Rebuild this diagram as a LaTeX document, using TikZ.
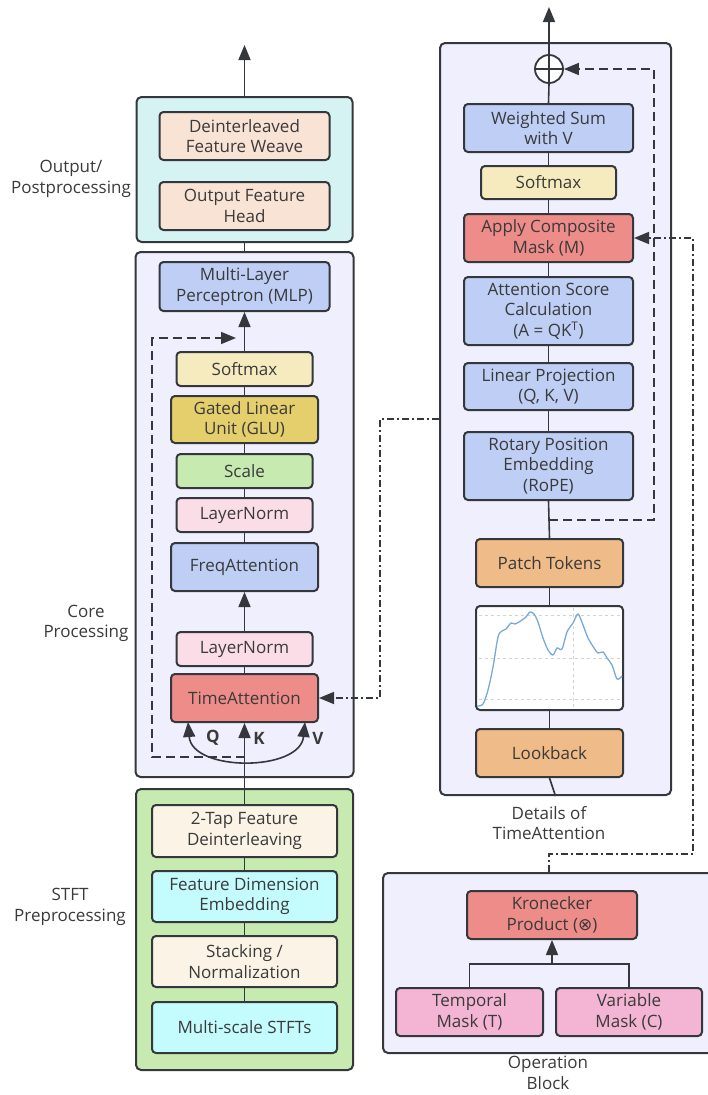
\documentclass[tikz,border=0pt]{standalone}
\usepackage{fontspec}
\setmainfont{Open Sans}
\newfontfamily\symfont{DejaVu Sans}
\usetikzlibrary{positioning, arrows.meta, calc}
\definecolor{edge}{RGB}{52, 56, 60}
\definecolor{ink}{RGB}{58, 58, 58}
\definecolor{lav}{RGB}{239, 239, 253}
\definecolor{aqua}{RGB}{214, 243, 243}
\definecolor{peach}{RGB}{249, 227, 213}
\definecolor{blue}{RGB}{190, 206, 245}
\definecolor{cream}{RGB}{246, 235, 191}
\definecolor{gold}{RGB}{229, 207, 108}
\definecolor{leaf}{RGB}{199, 234, 177}
\definecolor{blush}{RGB}{251, 221, 232}
\definecolor{coral}{RGB}{238, 140, 138}
\definecolor{linen}{RGB}{251, 243, 230}
\definecolor{ice}{RGB}{196, 251, 253}
\definecolor{amber}{RGB}{239, 187, 136}
\definecolor{rose}{RGB}{244, 180, 212}
\definecolor{wave}{RGB}{120, 170, 215}

\begin{document}
\begin{tikzpicture}[
    x=1pt, y=-1pt,
    group/.style={
        rectangle, rounded corners=5pt, draw=edge, fill=#1,
        line width=2pt,
    },
    blk/.style={
        rectangle, rounded corners=4pt, draw=edge, fill=#1,
        line width=2pt, text=ink, align=center,
        font=\fontsize{17}{20.5}\selectfont, inner sep=2pt,
    },
    side/.style={text=ink, align=center, font=\fontsize{17}{20.5}\selectfont},
    link/.style={draw=edge, line width=1.6pt},
    arr/.style={link, -{Triangle[length=15pt, width=12pt]}},
    resid/.style={arr, dash pattern=on 9pt off 5pt},
    mixed/.style={arr, dash pattern=on 7pt off 3pt on 2pt off 3pt},
    qkv/.style={text=ink, font=\fontsize{17}{18}\selectfont\bfseries},
]
\useasboundingbox (0,0) rectangle (708,1095);

% --- Outer blocks ---
\node[group=aqua, minimum width=216, minimum height=145] (outblk) at (244.5,169.5) {};
\node[group=lav,  minimum width=218, minimum height=525] (core)   at (244.5,514.5) {};
\node[group=leaf, minimum width=217, minimum height=281] (stft)   at (244.5,929.5) {};
\node[group=lav,  minimum width=231, minimum height=752] (detail) at (555.5,419) {};
\node[group=lav,  minimum width=332, minimum height=180] (opblk)  at (549,963) {};

% --- Side labels ---
\node[side] (outlbl)  at (71,179)  {Output/\\Postprocessing};
\node[side] (corelbl) at (86,623.5) {Core\\Processing};
\node[side] (stftlbl) at (70,907)  {STFT\\Preprocessing};
\node[side] (detlbl)  at (549,823) {Details of\\TimeAttention};
\node[side] (oplbl)   at (548,1073) {Operation\\Block};

% --- Output / postprocessing ---
\node[blk=peach, minimum width=170, minimum height=48] (weave) at (244.5,136) {Deinterleaved\\Feature Weave};
\node[blk=peach, minimum width=170, minimum height=48] (head)  at (244.5,206) {Output Feature\\Head};

% --- Core processing ---
\node[blk=blue,  minimum width=170, minimum height=49] (mlp)   at (244.5,286.5) {Multi-Layer\\Perceptron (MLP)};
\node[blk=cream, minimum width=136, minimum height=34] (smax)  at (244.5,369) {Softmax};
\node[blk=gold,  minimum width=147, minimum height=47] (glu)   at (244.5,419.5) {Gated Linear\\Unit (GLU)};
\node[blk=leaf,  minimum width=136, minimum height=34] (scale) at (244.5,471) {Scale};
\node[blk=blush, minimum width=136, minimum height=34] (ln1)   at (244.5,515) {LayerNorm};
\node[blk=blue,  minimum width=147, minimum height=48] (freq)  at (244.5,567) {FreqAttention};
\node[blk=blush, minimum width=136, minimum height=34] (ln2)   at (244.5,649) {LayerNorm};
\node[blk=coral, minimum width=147, minimum height=48] (tatt)  at (244.5,698) {TimeAttention};

% --- STFT preprocessing ---
\node[blk=linen, minimum width=185, minimum height=52] (tap)   at (244.5,831) {2-Tap Feature\\Deinterleaving};
\node[blk=ice,   minimum width=185, minimum height=51] (fde)   at (244.5,896.5) {Feature Dimension\\Embedding};
\node[blk=linen, minimum width=185, minimum height=51] (stack) at (244.5,961.5) {Stacking /\\Normalization};
\node[blk=ice,   minimum width=185, minimum height=51] (mstft) at (244.5,1027.5) {Multi-scale STFTs};

% --- Details of TimeAttention ---
\node[circle, draw=edge, fill=white, line width=1.8pt, minimum size=28, inner sep=0pt] (oplus) at (549,69) {};
\node[blk=blue,  minimum width=169, minimum height=48] (wsum)  at (548.5,128) {Weighted Sum\\with V};
\node[blk=cream, minimum width=135, minimum height=33] (smax2) at (548.5,182.5) {Softmax};
\node[blk=coral, minimum width=169, minimum height=48] (mask)  at (548.5,238) {Apply Composite\\Mask (M)};
\node[blk=blue,  minimum width=169, minimum height=68] (score) at (548.5,311) {Attention Score\\Calculation\\(A = QK\textsuperscript{T})};
\node[blk=blue,  minimum width=169, minimum height=47] (proj)  at (548.5,386.5) {Linear Projection\\(Q, K, V)};
\node[blk=blue,  minimum width=169, minimum height=68] (rope)  at (548.5,466) {Rotary Position\\Embedding\\(RoPE)};
\node[blk=amber, minimum width=147, minimum height=48] (patch) at (549.5,563) {Patch Tokens};
\node[blk=white, minimum width=147, minimum height=104] (plot) at (549.5,658) {};
\node[blk=amber, minimum width=147, minimum height=48] (look)  at (549.5,753) {Lookback};

% series sketch inside the plot frame
\draw[gray!35, line width=0.6pt, dashed] (479,615) -- (621,615) (479,658) -- (621,658)
    (479,699) -- (621,699) (573,608) -- (573,708);
\draw[wave, line width=1.3pt] plot[smooth, tension=0.5] coordinates {
    (477,706) (483,704) (488,690) (493,667) (498,637) (502,631) (506,629)
    (511,623) (515,624) (522,620) (526,617) (530,612) (534,614) (538,622)
    (543,638) (548,650) (553,655) (557,648) (562,649) (567,632) (573,623)
    (578,614) (583,625) (588,638) (594,648) (598,653) (603,652) (607,658)
    (612,665) (617,679) (622,676)};

% --- Operation block ---
\node[blk=coral, minimum width=170, minimum height=48] (kron) at (552,915) {Kronecker\\Product ({\symfont ⊗})};
\node[blk=rose,  minimum width=147, minimum height=48] (tmask) at (469.5,1012) {Temporal\\Mask (T)};
\node[blk=rose,  minimum width=146, minimum height=48] (vmask) at (629,1012) {Variable\\Mask (C)};

% --- Left column connectors ---
\coordinate (outtop) at (244.5,45);
\draw[arr] (outblk.north) -- (outtop);
\draw[link] (core.north) -- (outblk.south);
\draw[arr] (smax.north) -- (mlp.south);
\draw[link] (smax.south) -- (glu.north);
\draw[link] (glu.south) -- (scale.north);
\draw[link] (scale.south) -- (ln1.north);
\draw[link] (ln1.south) -- (freq.north);
\draw[arr] (ln2.north) -- (freq.south);
\draw[link] (tatt.north) -- (ln2.south);
\draw[arr] (tap.north) -- (tatt.south);
\draw[link] (tap.south) -- (fde.north);
\draw[link] (fde.south) -- (stack.north);
\draw[link] (stack.south) -- (mstft.north);

% Q / V split
\coordinate (qin) at (188,722);
\coordinate (vin) at (305,722);
\draw[link, {Triangle[length=15pt, width=12pt]}-{Triangle[length=15pt, width=12pt]}]
    (qin) .. controls (192,772) and (300,772) .. (vin);
\node[qkv] (qlbl) at (213,738) {Q};
\node[qkv] (klbl) at (259,738) {K};
\node[qkv] (vlbl) at (318,738) {V};

% residual skip around the core stack
\coordinate (skipin)  at (244.5,757);
\coordinate (skipout) at (236,338);
\draw[resid] (skipin) -- (152,757) -- (152,338) -- (skipout);

% --- Right column connectors ---
\coordinate (attop) at (549,7);
\draw[link] (oplus.north) -- (oplus.south) (oplus.west) -- (oplus.east);
\draw[arr] (oplus.north) -- (attop);
\draw[link] (wsum.north) -- (oplus.south);
\draw[link] (smax2.north) -- (wsum.south);
\draw[link] (mask.north) -- (smax2.south);
\draw[link] (score.north) -- (mask.south);
\draw[link] (proj.north) -- (score.south);
\draw[link] (rope.north) -- (proj.south);
\draw[link] (patch.north) -- (rope.south);
\draw[link] (plot.north) -- (patch.south);
\draw[link] (look.north) -- (plot.south);
\draw[link] (look.south) -- (detail.south);

\coordinate (rtap) at (549,520);
\draw[resid] (rtap) -| ([xshift=90]oplus.east) -- (oplus.east);

% --- Mask and attention feeds ---
\draw[mixed] (detail.west) -| ([xshift=61]tatt.east) -- (tatt.east);
\draw[mixed] (opblk.north) -- ++(0,-18) -| ([xshift=59]mask.east) -- (mask.east);

\coordinate (join) at (552,964);
\draw[link] (tmask.north) |- (join) -| (vmask.north);
\draw[arr] (join) -- (kron.south);

\end{tikzpicture}
\end{document}
